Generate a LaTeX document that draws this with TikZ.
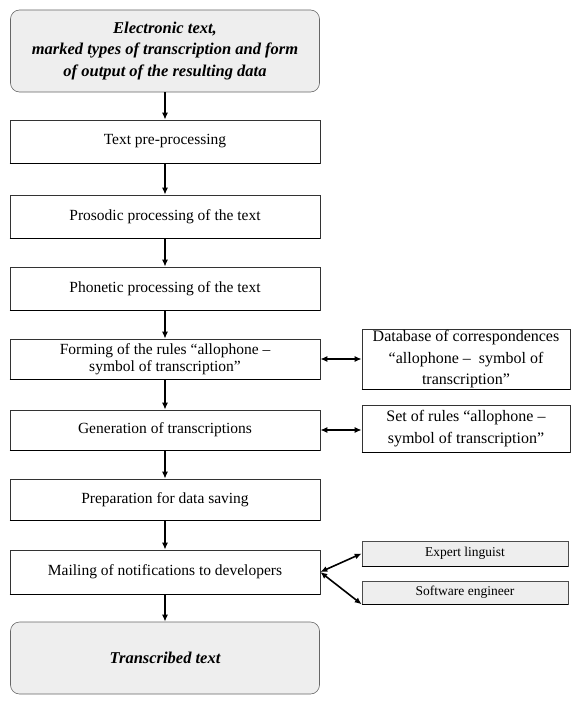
\documentclass[tikz,border=0pt]{standalone}
\usepackage{fontspec}
\setmainfont{Liberation Serif}
\usetikzlibrary{arrows.meta}
\definecolor{boxgray}{HTML}{EEEEEE}
\tikzset{
  px/.style={x=1pt,y=-1pt},
  mainbox/.style={draw=black!80, line width=0.6pt, fill=white, inner sep=1pt, align=center, font=\fontsize{15.5}{17}\selectfont},
  endbox/.style={draw=black!60, line width=0.6pt, fill=boxgray, rounded corners=9pt, align=center, font=\fontsize{16.5}{21.5}\selectfont\bfseries\itshape},
  sidebox/.style={draw=black!80, line width=0.6pt, fill=white, inner sep=1pt, align=center, font=\fontsize{16}{21.5}\selectfont},
  smallbox/.style={draw=black!70, line width=0.6pt, fill=boxgray, inner sep=1pt, align=center, font=\fontsize{13.5}{14}\selectfont},
  flow/.style={-{Latex[length=7pt,width=6pt]}, line width=1.6pt},
  both/.style={{Latex[length=7pt,width=6pt]}-{Latex[length=7pt,width=6pt]}, line width=1.6pt},
}
\newcommand{\thickbottom}[1]{\draw[line width=1.6pt] (#1.south west) -- (#1.south east);}
\begin{document}
\begin{tikzpicture}[px]
\useasboundingbox (0,0) rectangle (570,701);
% left column
\node[endbox, minimum width=309pt, minimum height=82pt] (in) at (165,51)
  {Electronic text,\\ marked types of transcription and form\\ of output of the resulting data};
\node[mainbox, minimum width=310pt, minimum height=43pt] (b1) at (165,141.5) {Text pre-processing};
\node[mainbox, minimum width=310pt, minimum height=43pt] (b2) at (165,216.5) {Prosodic processing of the text};
\node[mainbox, minimum width=310pt, minimum height=43pt] (b3) at (165,288.5) {Phonetic processing of the text};
\node[mainbox, minimum width=310pt, minimum height=40pt] (b4) at (165,359) {Forming of the rules ``allophone --\\ symbol of transcription''};
\node[mainbox, minimum width=310pt, minimum height=40pt] (b5) at (165,430) {Generation of transcriptions};
\node[mainbox, minimum width=310pt, minimum height=41pt] (b6) at (165,499.5) {Preparation for data saving};
\node[mainbox, minimum width=310pt, minimum height=44pt] (b7) at (165,572) {Mailing of notifications to developers};
\node[endbox, minimum width=309pt, minimum height=72pt] (out) at (165,658) {Transcribed text};
\foreach \n in {b1,b2,b3,b4,b5,b6,b7} {\thickbottom{\n}}
% right column
\node[sidebox, minimum width=208pt, minimum height=59pt] (db) at (466,359.5)
  {Database of correspondences\\ ``allophone --\ \ symbol of\\ transcription''};
\node[sidebox, minimum width=208pt, minimum height=47pt] (rules) at (466,428.5)
  {Set of rules ``allophone --\\ symbol of transcription''};
\node[smallbox, minimum width=206pt, minimum height=25pt] (exp) at (465,553.5) {Expert linguist};
\node[smallbox, minimum width=206pt, minimum height=23pt] (soft) at (465,592.5) {Software engineer};
\foreach \n in {db,rules,exp,soft} {\thickbottom{\n}}
% connectors
\draw[flow] (in) -- (b1);
\draw[flow] (b1) -- (b2);
\draw[flow] (b2) -- (b3);
\draw[flow] (b3) -- (b4);
\draw[flow] (b4) -- (b5);
\draw[flow] (b5) -- (b6);
\draw[flow] (b6) -- (b7);
\draw[flow] (b7) -- (out);
\draw[both] (b4.east) -- (db.west |- b4.east);
\draw[both] (b5.east) -- (rules.west |- b5.east);
\draw[both] (b7.east) -- (exp.west);
\draw[both] (b7.east) -- (soft.south west);
\end{tikzpicture}
\end{document}
